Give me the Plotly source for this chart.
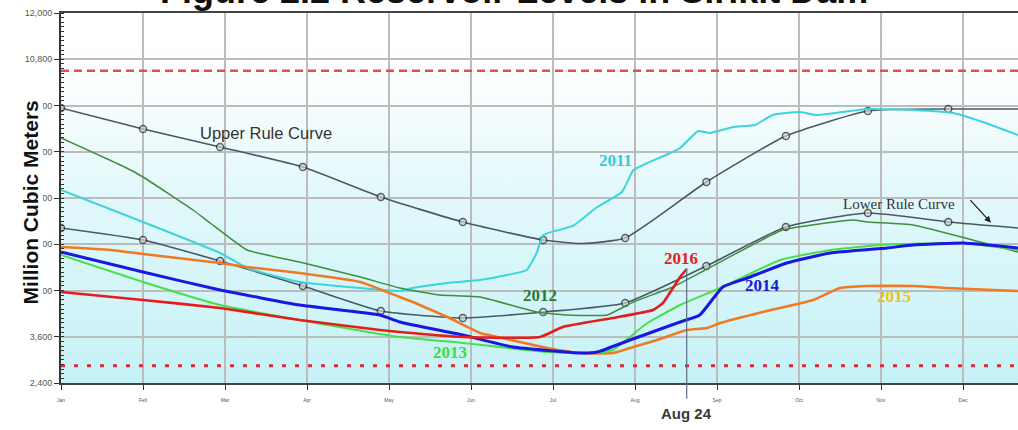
import base64
import plotly.graph_objects as go

# ---- axes -------------------------------------------------------------
MONTHS = ["Jan", "Feb", "Mar", "Apr", "May", "Jun", "Jul", "Aug", "Sep", "Oct", "Nov", "Dec"]
MONTH_POS = list(range(12))
X_MAX = 11.67
Y_MIN, Y_MAX, Y_STEP = 2400, 12000, 1200

# ---- reference storage levels (million m3) ----------------------------
MAX_STORAGE = 10500
DEAD_STORAGE = 2850
AUG24_POS = 7.63

# ---- rule curves ------------------------------------------------------
upper_x = [0, 1.0, 1.94, 2.95, 3.90, 4.90, 5.88, 6.35, 6.88, 7.87, 8.84, 9.84, 10.82, 11.67]
upper_y = [9535, 8990, 8523, 8004, 7226, 6577, 6110, 6020, 6162, 7615, 8809, 9457, 9509, 9509]
upper_marked = [1, 1, 1, 1, 1, 1, 1, 0, 1, 1, 1, 1, 1, 0]

lower_x = [0, 1.0, 1.94, 2.95, 3.90, 4.90, 5.88, 6.88, 7.87, 8.84, 9.84, 10.82, 11.67]
lower_y = [6422, 6110, 5565, 4917, 4268, 4087, 4242, 4476, 5436, 6448, 6811, 6577, 6422]
lower_marked = [1, 1, 1, 1, 1, 1, 1, 1, 1, 1, 1, 1, 0]

# ---- yearly storage ---------------------------------------------------
y2011_x = [0, 1.0, 1.94, 2.27, 2.91, 3.65, 4.13, 4.29, 4.71, 5.11, 5.44, 5.68, 5.80, 5.88,
           6.24, 6.54, 6.84, 6.98, 7.15, 7.43, 7.55, 7.77, 7.91, 8.20, 8.46, 8.68, 9.01,
           9.22, 9.83, 10.39, 10.88, 11.24, 11.67]
y2011_y = [7408, 6577, 5773, 5384, 5021, 4865, 4790, 4865, 4995, 5073, 5202, 5332, 5773, 6240,
           6474, 6967, 7356, 7926, 8108, 8368, 8497, 8938, 8886, 9042, 9094, 9353, 9431,
           9353, 9509, 9483, 9405, 9172, 8835]

y2012_x = [0, 0.8, 1.0, 1.61, 1.82, 2.27, 2.91, 3.65, 4.13, 4.62, 5.11, 5.80, 6.17, 6.66,
           6.98, 7.46, 7.88, 8.80, 9.66, 9.83, 10.39, 11.21, 11.67]
y2012_y = [8757, 7978, 7745, 6889, 6551, 5851, 5539, 5150, 4865, 4683, 4632, 4243, 4164, 4164,
           4502, 4891, 5358, 6370, 6629, 6577, 6499, 6058, 5799]

y2013_x = [0, 1.0, 1.94, 2.91, 4.13, 4.90, 5.93, 6.54, 6.73, 7.15, 7.55, 8.04, 8.77, 9.38,
           9.99, 11.0, 11.67]
y2013_y = [5721, 5021, 4424, 4035, 3594, 3438, 3204, 3178, 3256, 3957, 4424, 4865, 5591, 5851,
           5980, 6032, 5851]

y2014_x = [0, 1.0, 1.94, 2.91, 3.89, 4.13, 4.90, 5.51, 6.33, 6.54, 6.94, 7.55, 7.79, 8.07,
           8.37, 8.85, 9.38, 10.07, 10.39, 11.0, 11.67]
y2014_y = [5799, 5280, 4813, 4424, 4164, 3983, 3646, 3334, 3178, 3204, 3516, 3983, 4164, 4891,
           5124, 5513, 5773, 5903, 5980, 6032, 5903]

y2015_x = [0, 0.6, 1.0, 1.94, 2.27, 2.91, 3.65, 4.13, 4.29, 4.71, 5.11, 5.32, 5.93, 6.33,
           6.73, 6.98, 7.27, 7.63, 7.88, 8.04, 8.56, 9.17, 9.50, 9.83, 10.39, 10.80, 11.37, 11.67]
y2015_y = [5929, 5851, 5747, 5513, 5410, 5254, 5021, 4632, 4502, 4113, 3697, 3594, 3308, 3178,
           3178, 3334, 3516, 3775, 3827, 3957, 4242, 4554, 4865, 4917, 4917, 4865, 4813, 4787]

y2016_x = [0, 1.0, 1.94, 2.91, 3.89, 4.13, 4.90, 5.84, 6.12, 6.73, 7.22, 7.34, 7.55, 7.63]
y2016_y = [4761, 4554, 4346, 4035, 3775, 3723, 3594, 3594, 3853, 4087, 4294, 4476, 5150, 5358]

SERIES = [
    ("2011", y2011_x, y2011_y, "#3dd3dc", 2.0),
    ("2012", y2012_x, y2012_y, "#3e8e3e", 1.5),
    ("2015", y2015_x, y2015_y, "#f07a22", 2.6),
    ("2013", y2013_x, y2013_y, "#48e048", 2.0),
    ("2014", y2014_x, y2014_y, "#1818e0", 3.0),
    ("2016", y2016_x, y2016_y, "#e61c1c", 2.6),
]

RULE_COLOR = "#4a5766"

fig = go.Figure()

# storage limits
fig.add_trace(go.Scatter(x=[0, X_MAX], y=[MAX_STORAGE, MAX_STORAGE], mode="lines",
                         line=dict(color="#e05050", width=2.5, dash="8px,5px"), hoverinfo="skip"))
fig.add_trace(go.Scatter(x=[0, X_MAX], y=[DEAD_STORAGE, DEAD_STORAGE], mode="lines",
                         line=dict(color="#e02a3a", width=3, dash="4px,9px"), hoverinfo="skip"))

# rule curves
for xs, ys, marked in [(upper_x, upper_y, upper_marked), (lower_x, lower_y, lower_marked)]:
    fig.add_trace(go.Scatter(
        x=xs, y=ys, mode="lines+markers",
        line=dict(color=RULE_COLOR, width=1.6, shape="spline", smoothing=0.5),
        marker=dict(size=[7 if m else 0 for m in marked], color="#cfd3d6",
                    line=dict(color="#222222", width=1.4)),
        hoverinfo="skip"))

# yearly storage lines
for name, xs, ys, color, width in SERIES:
    fig.add_trace(go.Scatter(x=xs, y=ys, mode="lines", name=name,
                             line=dict(color=color, width=width, shape="spline", smoothing=0.4)))

# vertical gradient behind the plot area
svg = ('<svg xmlns="http://www.w3.org/2000/svg" width="100" height="100" preserveAspectRatio="none">'
       '<defs><linearGradient id="g" x1="0" y1="0" x2="0" y2="1">'
       '<stop offset="0" stop-color="#ffffff"/>'
       '<stop offset="0.18" stop-color="#fcfefe"/>'
       '<stop offset="0.5" stop-color="#e2f8fb"/>'
       '<stop offset="1" stop-color="#c6f2f6"/>'
       '</linearGradient></defs><rect width="100" height="100" fill="url(#g)"/></svg>')
svg_uri = "data:image/svg+xml;base64," + base64.b64encode(svg.encode()).decode()

fig.add_layout_image(dict(source=svg_uri, xref="paper", yref="paper", x=0, y=1,
                          sizex=1, sizey=1, sizing="stretch", layer="below",
                          xanchor="left", yanchor="top"))

# Aug 24 marker line
fig.add_shape(type="line", xref="x", yref="paper", x0=AUG24_POS, x1=AUG24_POS,
              y0=-0.042, y1=0.31, line=dict(color="#5b6c84", width=1.2))

serif = "Liberation Serif"
labels = [
    ("2011", 6.76, 8186, "#33ccd6"),
    ("2012", 5.84, 4683, "#2e7a2e"),
    ("2013", 4.74, 3204, "#3edc3e"),
    ("2016", 7.56, 5643, "#e62020"),
    ("2014", 8.55, 4917, "#1a1ad0"),
    ("2015", 10.16, 4632, "#e8c414"),
]
for text, x, y, color in labels:
    fig.add_annotation(x=x, y=y, text="<b>%s</b>" % text, showarrow=False,
                       font=dict(family=serif, size=17, color=color))

fig.add_annotation(x=2.5, y=8886, text="Upper Rule Curve", showarrow=False,
                   font=dict(family="Liberation Sans", size=16.5, color="#333333"))
fig.add_annotation(x=10.22, y=7044, text="Lower Rule Curve", showarrow=False,
                   font=dict(family=serif, size=15, color="#333333"))
fig.add_annotation(x=11.34, y=6560, ax=-22, ay=-24, text="", showarrow=True,
                   arrowhead=2, arrowsize=1, arrowwidth=1.3, arrowcolor="#222222")

fig.add_annotation(x=AUG24_POS, y=-0.082, xref="x", yref="paper", yanchor="middle",
                   text="<b>Aug 24</b>", showarrow=False,
                   font=dict(family="Liberation Sans", size=15, color="#3a3a3a"))

# chart title (runs off the top of the canvas)
fig.add_annotation(x=0.473, y=1, xref="paper", yref="paper", yanchor="bottom",
                   text="<b>Figure 2.2 Reservoir Levels in Sirikit Dam</b>", showarrow=False,
                   font=dict(family="Liberation Sans", size=36, color="#111111"))

# y-axis title
fig.add_annotation(x=-0.032, y=0.489, xref="paper", yref="paper", xanchor="center",
                   yanchor="middle", textangle=-90,
                   text="<b>Million Cubic Meters</b>", showarrow=False, bgcolor="white",
                   borderpad=0, font=dict(family="Liberation Sans", size=21, color="#111111"))

fig.update_layout(
    width=1018, height=430,
    margin=dict(l=61, r=0, t=13, b=47),
    paper_bgcolor="white", plot_bgcolor="rgba(0,0,0,0)",
    showlegend=False,
    font=dict(family="Liberation Sans"),
)
fig.update_xaxes(
    range=[0, X_MAX], tickvals=MONTH_POS, ticktext=MONTHS,
    showgrid=True, gridcolor="#bcbcbc", gridwidth=1.5,
    showline=True, linecolor="#444444", linewidth=2, mirror=True,
    ticks="outside", ticklen=5, tickcolor="#333333",
    tickfont=dict(size=5, color="#555555"), ticklabelstandoff=6,
    zeroline=False,
)
fig.update_yaxes(
    range=[Y_MIN, Y_MAX], tick0=Y_MIN, dtick=Y_STEP, tickformat=",d",
    showgrid=True, gridcolor="#bcbcbc", gridwidth=1.5,
    showline=True, linecolor="#333333", linewidth=2,
    ticks="outside", ticklen=5, tickcolor="#333333",
    tickfont=dict(size=9, color="#555555"),
    minor=dict(dtick=Y_STEP / 10, ticks="inside", ticklen=3, tickcolor="#333333", showgrid=False),
    zeroline=False,
)

fig.write_html("out.html")
